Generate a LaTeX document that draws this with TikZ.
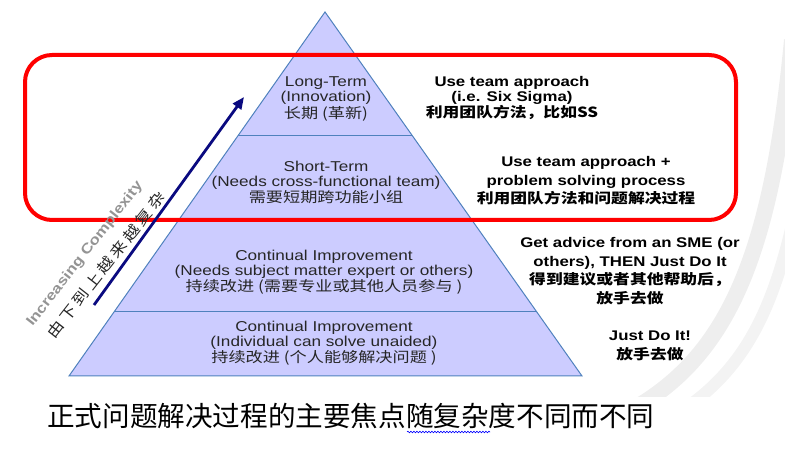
\documentclass[tikz,border=0pt]{standalone}
\usepackage{fontspec}
\setmainfont[FakeStretch=1.2]{Liberation Sans}
\newfontfamily\cjk[FakeStretch=1.2]{Noto Sans CJK SC}
\newfontfamily\cjktitle{Noto Sans CJK SC}
\usetikzlibrary{arrows.meta,positioning,calc,decorations.pathmorphing}

\definecolor{tierfill}{RGB}{204,204,255}
\definecolor{tieredge}{RGB}{79,129,189}
\definecolor{navyarrow}{RGB}{10,10,128}
\definecolor{bandgray}{RGB}{238,238,238}
\definecolor{focusred}{RGB}{255,0,0}

\begin{document}
\begin{tikzpicture}[x=1pt,y=-1pt,
  tier/.style={fill=tierfill,draw=tieredge,line width=1pt},
  lvl/.style={align=center,text=black!85,
              font=\fontsize{14.3}{15}\selectfont},
  act/.style={align=center,font=\bfseries\fontsize{14}{18.5}\selectfont},
  arr/.style={-{Triangle[length=12pt,width=10pt]},line width=2.8pt,
              draw=navyarrow},
  focus/.style={draw=focusred,line width=4pt,rounded corners=27pt},
]
  \useasboundingbox (0,0) rectangle (785,462);

  % Background bands
  \begin{scope}
    \clip (0,0) rectangle (785,397);
    \draw[bandgray,line width=16pt] (792,40) .. controls (772,250) and (730,350) .. (640,405);
    \draw[bandgray!70,line width=12pt] (792,225) .. controls (772,310) and (745,365) .. (690,405);
  \end{scope}

  % Pyramid
  \coordinate (apex) at (325,12);
  \coordinate (bl) at (69,376);
  \coordinate (br) at (582,376);
  \coordinate (l1) at ($(apex)!0.338!(bl)$);
  \coordinate (r1) at ($(apex)!0.338!(br)$);
  \coordinate (l2) at ($(apex)!0.571!(bl)$);
  \coordinate (r2) at ($(apex)!0.571!(br)$);
  \coordinate (l3) at ($(apex)!0.824!(bl)$);
  \coordinate (r3) at ($(apex)!0.824!(br)$);
  \filldraw[tier] (apex) -- (bl) -- (br) -- cycle;
  \draw[tier] (l1) -- (r1);
  \draw[tier] (l2) -- (r2);
  \draw[tier] (l3) -- (r3);

  % Levels
  \node[lvl] (long) at (326,99)
    {Long-Term\\(Innovation)\\{\cjk 长期 (革新)}};
  \node[lvl] (short) at (326,182)
    {Short-Term\\(Needs cross-functional team)\\{\cjk 需要短期跨功能小组}};
  \node[lvl] (sme) at (324,272)
    {Continual Improvement\\(Needs subject matter expert or others)\\{\cjk 持续改进 (需要专业或其他人员参与 )}};
  \node[lvl] (solo) at (324,343)
    {Continual Improvement\\(Individual can solve unaided)\\{\cjk 持续改进 (个人能够解决问题 )}};

  % Actions
  \node[act,font=\bfseries\fontsize{14}{15}\selectfont] (a1) at (512,98)
    {Use team approach\\(i.e. Six Sigma)\\{\cjk 利用团队方法，比如SS}};
  \node[act] (a2) at (586,181)
    {Use team approach +\\problem solving process\\{\cjk 利用团队方法和问题解决过程}};
  \node[act] (a3) at (630,271)
    {Get advice from an SME (or\\others), THEN Just Do It\\{\cjk 得到建议或者其他帮助后，}\\{\cjk 放手去做}};
  \node[act] (a4) at (650,346)
    {Just Do It!\\{\cjk 放手去做}};

  % Focus box
  \draw[focus] (25,55) rectangle (736,220);

  % Complexity arrow
  \coordinate (tail) at (94,305);
  \coordinate (head) at (244,97);
  \draw[arr] (tail) -- (head);
  \node[rotate=52,text=black!42,font=\bfseries\fontsize{14}{16}\selectfont]
    (cplx) at (85,254) {Increasing Complexity};
  \node[rotate=52,text=black!85,font=\cjk\fontsize{14.5}{16}\selectfont]
    (cplxzh) at (106,265)
    {由\hspace{3pt}下\hspace{3pt}到\hspace{3pt}上\hspace{3pt}越\hspace{3pt}来\hspace{3pt}越\hspace{3pt}复\hspace{3pt}杂};

  % Title
  \node[font=\cjktitle\fontsize{27.6}{30}\selectfont] (title) at (351,416)
    {正式问题解决过程的主要焦点随复杂度不同而不同};
  \draw[blue,line width=0.6pt,decorate,
        decoration={snake,amplitude=0.8pt,segment length=3pt}]
    (407,432) -- (490,432);
\end{tikzpicture}
\end{document}
